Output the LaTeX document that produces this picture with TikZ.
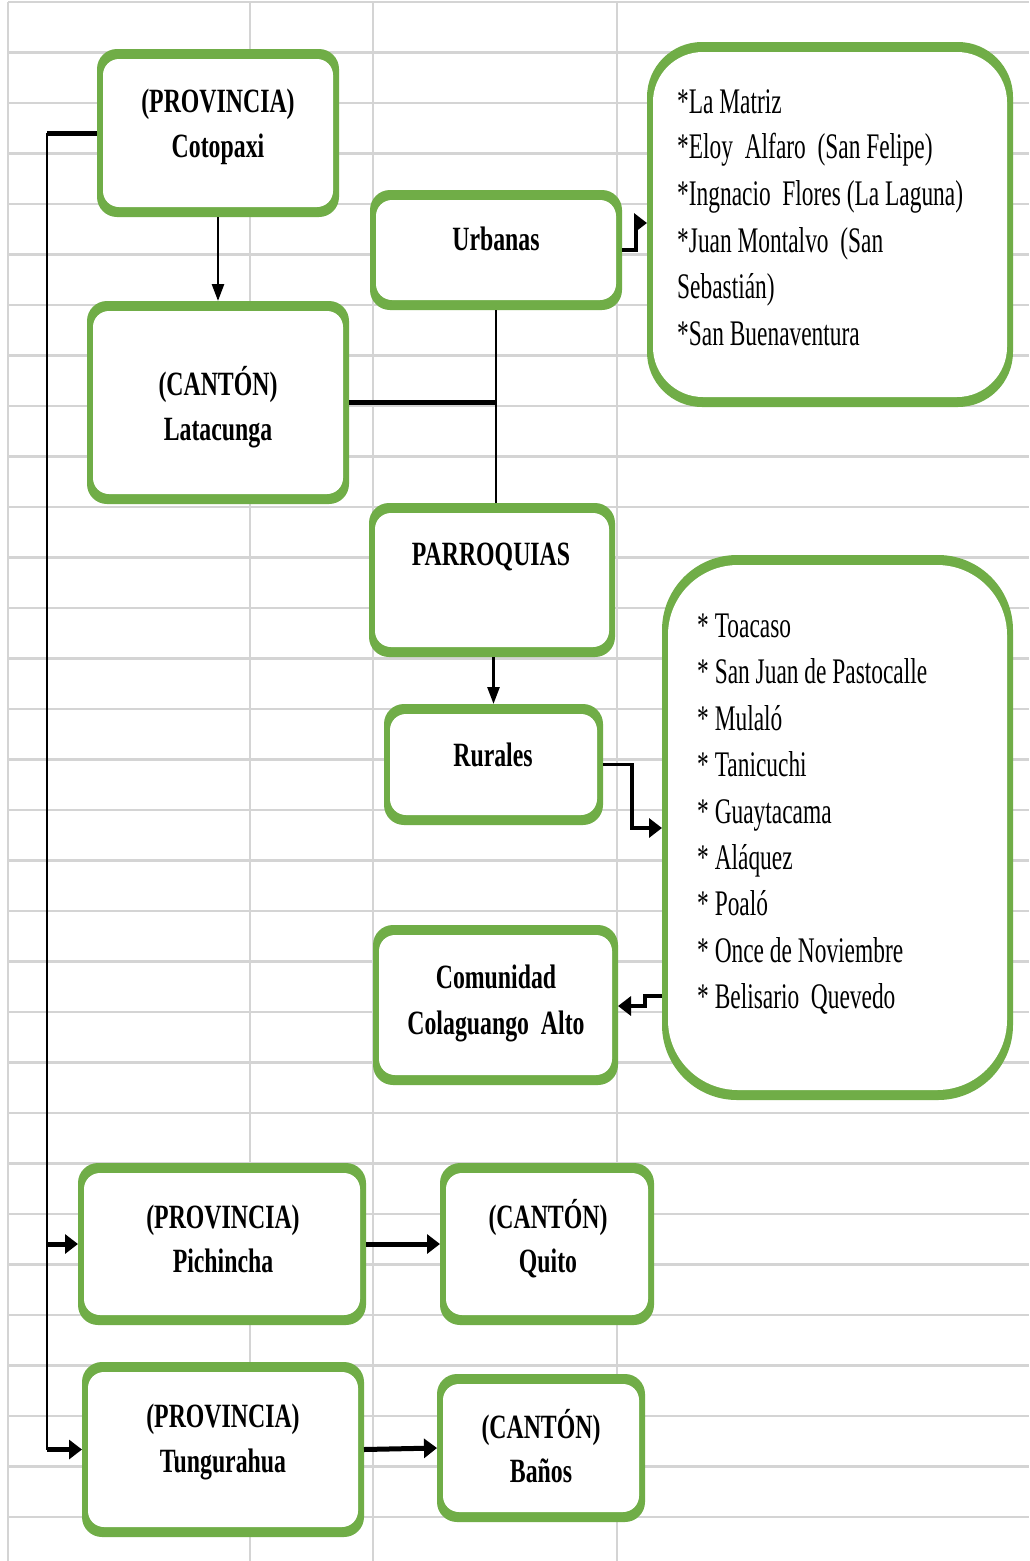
\documentclass[tikz,border=0pt]{standalone}
\usepackage{fontspec}
\setmainfont{Liberation Serif}
\newfontfamily\boxfont[FakeStretch=0.70]{Liberation Serif}
\newfontfamily\listfont[FakeStretch=0.65]{Liberation Serif}
\usetikzlibrary{arrows.meta}
\definecolor{boxgreen}{HTML}{70AD47}
\definecolor{gridgray}{HTML}{D4D4D4}

\begin{document}
\begin{tikzpicture}[x=1pt,y=-1pt,
  frame/.style 2 args={rectangle, rounded corners=#1, fill=boxgreen, draw=none,
    inner sep=0pt, outer sep=0pt,
    path picture={\fill[white, rounded corners=#2]
      ([xshift=6pt,yshift=10pt]path picture bounding box.south west) rectangle
      ([xshift=-6pt,yshift=-10pt]path picture bounding box.north east);}},
  title/.style={anchor=base, inner sep=0pt,
    font=\boxfont\bfseries\fontsize{34}{34}\selectfont},
  item/.style={anchor=base west, inner sep=0pt,
    font=\listfont\fontsize{36}{36}\selectfont},
  gridline/.style={draw=gridgray, line width=2.5pt},
  hline/.style={line width=5pt},
  vline/.style={line width=2.7pt},
  elbow/.style={line width=3.3pt},
  harrow/.style={-{Triangle[length=13pt,width=19pt]}},
  varrow/.style={-{Triangle[length=17pt,width=12pt]}},
]
\useasboundingbox[fill=white] (0,0) rectangle (1029,1561);

% spreadsheet grid
\foreach \k in {0,...,30}
  \draw[gridline] (8,{2+50.5*\k}) -- (1029,{2+50.5*\k});
\foreach \x in {8,250,373,617}
  \draw[gridline] (\x,2) -- (\x,1561);

% boxes
\node[frame={20pt}{16pt}, minimum width=242pt, minimum height=168pt] (cot) at (218,133) {};
\node[frame={20pt}{16pt}, minimum width=262pt, minimum height=203pt] (lat) at (218,402.5) {};
\node[frame={20pt}{16pt}, minimum width=252pt, minimum height=120pt] (urb) at (496,250) {};
\node[frame={55pt}{50pt}, minimum width=366pt, minimum height=365pt] (list1) at (830,224.5) {};
\node[frame={20pt}{16pt}, minimum width=246pt, minimum height=154pt] (parr) at (492,580) {};
\node[frame={20pt}{16pt}, minimum width=219pt, minimum height=121pt] (rur) at (493.5,764.5) {};
\node[frame={75pt}{70pt}, minimum width=351pt, minimum height=545pt] (list2) at (837.5,827.5) {};
\node[frame={20pt}{16pt}, minimum width=245pt, minimum height=160pt] (com) at (495.5,1005) {};
\node[frame={20pt}{16pt}, minimum width=288pt, minimum height=162pt] (pich) at (222,1244) {};
\node[frame={20pt}{16pt}, minimum width=214pt, minimum height=162pt] (quito) at (547,1244) {};
\node[frame={20pt}{16pt}, minimum width=282pt, minimum height=175pt] (tung) at (223,1449.5) {};
\node[frame={20pt}{16pt}, minimum width=208pt, minimum height=148pt] (banos) at (541,1448) {};

% box titles
\node[title] (cotA) at (218,112) {(PROVINCIA)};
\node[title] (cotB) at (218,157) {Cotopaxi};
\node[title] (urbA) at (496,250) {Urbanas};
\node[title] (latA) at (218,395) {(CANTÓN)};
\node[title] (latB) at (218,440) {Latacunga};
\node[title] (parA) at (491,565) {PARROQUIAS};
\node[title] (rurA) at (493,766) {Rurales};
\node[title] (comA) at (496,988) {Comunidad};
\node[title] (comB) at (496,1034) {Colaguango\ \ Alto};
\node[title] (pichA) at (223,1228) {(PROVINCIA)};
\node[title] (pichB) at (223,1272) {Pichincha};
\node[title] (quiA) at (548,1228) {(CANTÓN)};
\node[title] (quiB) at (548,1272) {Quito};
\node[title] (tunA) at (223,1427) {(PROVINCIA)};
\node[title] (tunB) at (223,1472) {Tungurahua};
\node[title] (banA) at (541,1438) {(CANTÓN)};
\node[title] (banB) at (541,1482) {Baños};

% urban parishes
\node[item] (u1) at (677,113) {*La Matriz};
\node[item] (u2) at (677,158) {*Eloy\ \ Alfaro\ \ (San Felipe)};
\node[item] (u3) at (677,205) {*Ingnacio\ \ Flores (La Laguna)};
\node[item] (u4) at (677,252) {*Juan Montalvo\ \ (San};
\node[item] (u5) at (677,298) {Sebastián)};
\node[item] (u6) at (677,345) {*San Buenaventura};

% rural parishes
\node[item] (r1) at (697,637) {* Toacaso};
\node[item] (r2) at (697,683) {* San Juan de Pastocalle};
\node[item] (r3) at (697,730) {* Mulaló};
\node[item] (r4) at (697,776) {* Tanicuchi};
\node[item] (r5) at (697,823) {* Guaytacama};
\node[item] (r6) at (697,869) {* Aláquez};
\node[item] (r7) at (697,915) {* Poaló};
\node[item] (r8) at (697,962) {* Once de Noviembre};
\node[item] (r9) at (697,1008) {* Belisario\ \ Quevedo};

% connectors
\coordinate (trTop) at (47,133);
\coordinate (trMid) at (47,1244);
\coordinate (trBot) at (47,1449.5);
\draw[hline] (cot.west) -- (trTop);
\draw[vline] (trTop) -- (trBot);
\draw[hline,harrow] (trMid) -- (pich.west);
\draw[hline,harrow] (trBot) -- (tung.west);

\draw[vline,varrow] (cot.south) -- (lat.north);

\coordinate (jn) at (496,402.5);
\draw[hline] (lat.east) -- (jn);
\draw[vline] (urb.south) -- (urb.south |- parr.north);

\draw[vline,varrow] (rur.north |- parr.south) -- (rur.north);

\coordinate (urbBend) at (636,223);
\draw[elbow,harrow] (urb.east) -| (urbBend) -- (urbBend -| list1.west);

\coordinate (rurBend) at (632,828);
\draw[elbow,harrow] (rur.east) -| (rurBend) -- (rurBend -| list2.west);

\coordinate (comBendA) at (645,996);
\coordinate (comBendB) at (645,1006);
\draw[elbow,harrow] (list2.west |- comBendA) -- (comBendA) -- (comBendB) -- (comBendB -| com.east);

\draw[hline,harrow] (pich.east) -- (quito.west);
\draw[hline,harrow] (tung.east) -- (banos.west);
\end{tikzpicture}
\end{document}
